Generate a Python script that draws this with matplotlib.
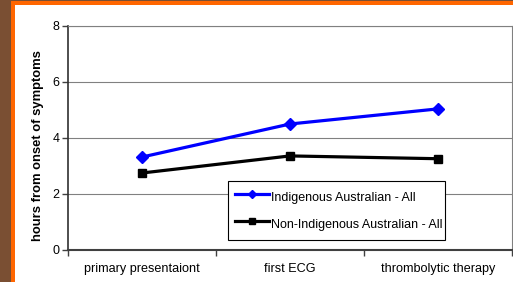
import matplotlib.pyplot as plt
from matplotlib.patches import Rectangle

# chart data
categories = ['primary presentaiont', 'first ECG', 'thrombolytic therapy']
indigenous = [3.32, 4.50, 5.04]
non_indigenous = [2.75, 3.36, 3.26]
y_ticks = [0, 2, 4, 6, 8]

W, H = 513, 282
plt.rcParams['font.family'] = ['Liberation Sans', 'DejaVu Sans']
fig = plt.figure(figsize=(W / 100, H / 100), dpi=100)
fig.patch.set_facecolor('#7a4f33')

# slide frame: orange border round a white panel
fig.patches.append(Rectangle((11 / W, 0), 1, (H - 1) / H, transform=fig.transFigure,
                             facecolor='#ff6600', edgecolor='none', zorder=-10))
fig.patches.append(Rectangle((15 / W, 0), 1, (H - 5) / H, transform=fig.transFigure,
                             facecolor='white', edgecolor='none', zorder=-9))

ax = fig.add_axes([68 / W, 32 / H, 444 / W, 224 / H])
ax.set_facecolor('white')
x = range(len(categories))

ax.plot(x, indigenous, color='#0000ff', linewidth=2.3, marker='D', markersize=6.5,
        label='Indigenous Australian - All', zorder=3)
ax.plot(x, non_indigenous, color='black', linewidth=2.3, marker='s', markersize=6,
        label='Non-Indigenous Australian - All', zorder=3)

ax.set_xlim(-0.5, 2.5)
ax.set_ylim(0, 8)
ax.set_yticks(y_ticks)
ax.yaxis.grid(True, color='#808080', linewidth=0.8)
ax.set_axisbelow(True)

ax.set_xticks(list(x))
ax.set_xticklabels(categories, fontsize=9.1, va='baseline')
ax.set_xticks([-0.5, 0.5, 1.5, 2.5], minor=True)
ax.tick_params(axis='x', which='major', length=0, pad=15.5)
ax.tick_params(axis='x', which='minor', length=4, width=1, color='#404040')
ax.tick_params(axis='y', length=4, width=1, color='#404040', labelsize=9, pad=2)

ax.spines['left'].set_color('#303030')
ax.spines['left'].set_linewidth(1.2)
ax.spines['bottom'].set_color('#404040')
ax.spines['bottom'].set_linewidth(1.5)
ax.spines['top'].set_color('#808080')
ax.spines['top'].set_linewidth(0.8)
ax.spines['right'].set_color('#808080')
ax.spines['right'].set_linewidth(0.8)

ax.set_ylabel('hours from onset of symptoms', fontsize=9.4, fontweight='bold')
ax.yaxis.set_label_coords(-0.053, 0.467)

leg = ax.legend(loc='lower left', bbox_to_anchor=(0.36, 0.045, 0.489, 0.263), mode='expand',
                fontsize=9, frameon=True, fancybox=False, framealpha=1, edgecolor='black',
                handlelength=2.75, handleheight=1.84, handletextpad=0.15, labelspacing=0.72,
                borderaxespad=0, borderpad=0.56, markerscale=0.7)
leg.get_frame().set_linewidth(0.8)

plt.savefig('out.png', dpi=100, facecolor=fig.get_facecolor())
